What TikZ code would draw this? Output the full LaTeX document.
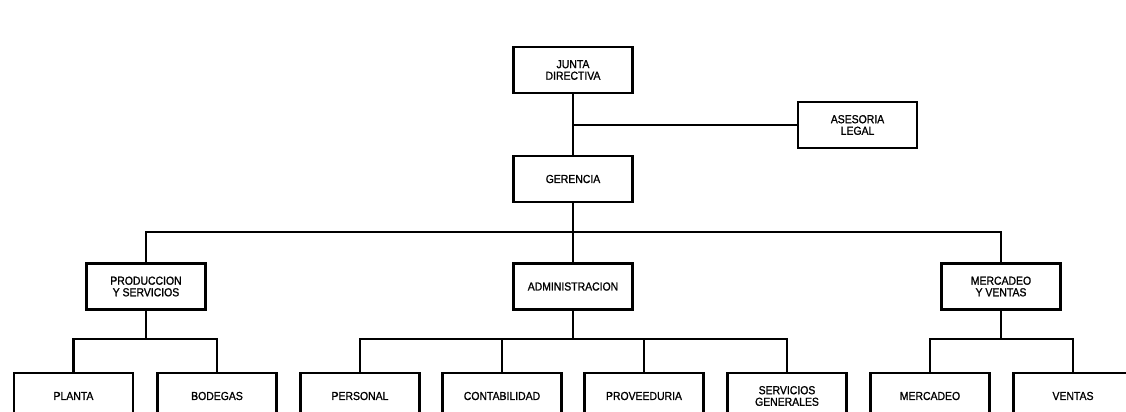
\documentclass[tikz,border=0pt]{standalone}
\usepackage{fontspec}
\setmainfont{Liberation Sans}[FakeStretch=0.9,FakeBold=1.2]
\begin{document}
\begin{tikzpicture}[x=0.02cm,y=-0.02cm,
  box/.style={draw,line width=1.2pt,minimum width=119*0.02cm,minimum height=46*0.02cm,
    inner sep=0pt,align=center,font=\fontsize{6.6}{6.6}\selectfont},
  conn/.style={line width=1.2pt}]
\useasboundingbox (0,0) rectangle (1126,412);
\clip (0,0) rectangle (1126,412);
\node[box] (junta) at (573,70) {JUNTA\\DIRECTIVA};
\node[box] (ases) at (857.5,125) {ASESORIA\\LEGAL};
\node[box] (ger) at (573,179) {GERENCIA};
\node[box] (prod) at (146,286.5) {PRODUCCION\\Y SERVICIOS};
\node[box] (admin) at (573,286.5) {ADMINISTRACION};
\node[box] (merc) at (1001,286.5) {MERCADEO\\Y VENTAS};
\node[box] (planta) at (73.5,396) {PLANTA};
\node[box] (bodegas) at (217,396) {BODEGAS};
\node[box] (personal) at (360,396) {PERSONAL};
\node[box] (contab) at (502,396) {CONTABILIDAD};
\node[box] (prov) at (644,396) {PROVEEDURIA};
\node[box] (serv) at (787,396) {SERVICIOS\\GENERALES};
\node[box] (mercadeo) at (930,396) {MERCADEO};
\node[box] (ventas) at (1073,396) {VENTAS};
\coordinate (j1) at (573,125);
\coordinate (b1) at (573,232);
\coordinate (b2) at (146,339);
\coordinate (b3) at (573,339);
\coordinate (b4) at (1001,339);
\draw[conn] (junta) -- (ger);
\draw[conn] (j1) -- (ases);
\draw[conn] (ger) -- (admin);
\draw[conn] (prod.north) |- (b1) -| (merc.north);
\draw[conn] (prod) -- (b2);
\draw[conn] (planta.north) |- (b2) -| (bodegas.north);
\draw[conn] (admin) -- (b3);
\draw[conn] (personal.north) |- (b3) -| (serv.north);
\draw[conn] (contab.north) -- (contab.north |- b3);
\draw[conn] (prov.north) -- (prov.north |- b3);
\draw[conn] (merc) -- (b4);
\draw[conn] (mercadeo.north) |- (b4) -| (ventas.north);
\end{tikzpicture}
\end{document}
